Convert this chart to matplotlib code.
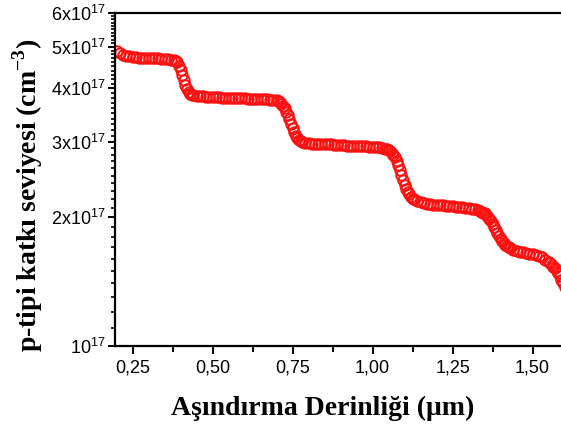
import numpy as np
import matplotlib
matplotlib.use('Agg')
import matplotlib.pyplot as plt
from matplotlib.ticker import FixedLocator, FixedFormatter, FuncFormatter

# etching depth (um) and p-type doping level (x1e17 cm^-3)
depth = [
    0.20, 0.21, 0.22, 0.23, 0.24, 0.25, 0.26, 0.27, 0.28, 0.29, 0.30, 0.31, 0.32, 0.33, 0.34, 0.35, 0.36, 0.37, 0.38,
    0.385, 0.39, 0.395, 0.40, 0.405, 0.41, 0.415, 0.42, 0.425, 0.43, 0.435, 0.44,
    0.45, 0.46, 0.47, 0.48, 0.49, 0.50, 0.51, 0.52, 0.53, 0.54, 0.55, 0.56, 0.57, 0.58, 0.59, 0.60,
    0.61, 0.62, 0.63, 0.64, 0.65, 0.66, 0.67, 0.68, 0.69, 0.70,
    0.705, 0.71, 0.715, 0.72, 0.725, 0.73, 0.735, 0.74, 0.745, 0.75, 0.755, 0.76, 0.765, 0.77, 0.775,
    0.78, 0.79, 0.80, 0.81, 0.82, 0.83, 0.84, 0.85, 0.86, 0.87, 0.88, 0.89, 0.90, 0.91, 0.92, 0.93,
    0.94, 0.95, 0.96, 0.97, 0.98, 0.99, 1.00, 1.01, 1.02, 1.03, 1.04,
    1.045, 1.05, 1.055, 1.06, 1.065, 1.07, 1.075, 1.08, 1.085, 1.09, 1.095, 1.10, 1.105, 1.11, 1.115, 1.12, 1.125,
    1.13, 1.14, 1.15, 1.16, 1.17, 1.18, 1.19, 1.20, 1.21, 1.22, 1.23, 1.24, 1.25, 1.26, 1.27, 1.28,
    1.29, 1.30, 1.31, 1.32, 1.33,
    1.335, 1.34, 1.345, 1.35, 1.355, 1.36, 1.365, 1.37, 1.375, 1.38, 1.385, 1.39, 1.395, 1.40, 1.405,
    1.41, 1.415, 1.42, 1.425,
    1.43, 1.44, 1.45, 1.46, 1.47, 1.48, 1.49, 1.50, 1.51, 1.52, 1.53, 1.54, 1.55,
    1.555, 1.56, 1.565, 1.57, 1.575, 1.58, 1.585, 1.59, 1.595, 1.60,
]
doping = [
    4.88, 4.83, 4.79, 4.77, 4.75, 4.74, 4.73, 4.72, 4.72, 4.71, 4.71, 4.70, 4.70, 4.70, 4.69, 4.69, 4.68, 4.67, 4.66,
    4.64, 4.60, 4.52, 4.42, 4.30, 4.18, 4.07, 3.98, 3.92, 3.88, 3.86, 3.85,
    3.84, 3.83, 3.83, 3.82, 3.82, 3.81, 3.81, 3.81, 3.80, 3.80, 3.80, 3.80, 3.79, 3.79, 3.79, 3.79,
    3.78, 3.78, 3.78, 3.78, 3.77, 3.77, 3.77, 3.76, 3.76, 3.75,
    3.73, 3.71, 3.68, 3.64, 3.59, 3.53, 3.46, 3.39, 3.31, 3.23, 3.16, 3.10, 3.06, 3.03, 3.01,
    2.99, 2.98, 2.98, 2.97, 2.97, 2.97, 2.96, 2.96, 2.96, 2.96, 2.95, 2.95, 2.95, 2.95, 2.94, 2.94,
    2.94, 2.94, 2.93, 2.93, 2.93, 2.92, 2.92, 2.92, 2.91, 2.90, 2.89,
    2.88, 2.87, 2.85, 2.83, 2.80, 2.76, 2.71, 2.65, 2.58, 2.51, 2.44, 2.38, 2.33, 2.29, 2.26, 2.23, 2.21,
    2.20, 2.18, 2.17, 2.16, 2.15, 2.15, 2.14, 2.14, 2.13, 2.13, 2.12, 2.12, 2.12, 2.11, 2.11, 2.11,
    2.10, 2.10, 2.09, 2.09, 2.08,
    2.07, 2.06, 2.05, 2.04, 2.02, 2.00, 1.98, 1.96, 1.93, 1.90, 1.87, 1.84, 1.81, 1.78, 1.76,
    1.74, 1.72, 1.71, 1.70,
    1.69, 1.68, 1.67, 1.66, 1.66, 1.65, 1.64, 1.64, 1.63, 1.62, 1.61, 1.59, 1.57,
    1.56, 1.55, 1.53, 1.52, 1.50, 1.48, 1.46, 1.43, 1.40, 1.37,
]

x_major = [0.25, 0.50, 0.75, 1.00, 1.25, 1.50]
x_minor = [0.375, 0.625, 0.875, 1.125, 1.375]
y_major = [1, 2, 3, 4, 5, 6]
y_labels = [r'$10^{17}$', r'$2\mathrm{x}10^{17}$', r'$3\mathrm{x}10^{17}$',
            r'$4\mathrm{x}10^{17}$', r'$5\mathrm{x}10^{17}$', r'$6\mathrm{x}10^{17}$']

plt.rcParams['font.family'] = 'Liberation Sans'
plt.rcParams['mathtext.fontset'] = 'custom'
plt.rcParams['mathtext.rm'] = 'Liberation Sans'
plt.rcParams['mathtext.bf'] = 'Liberation Serif:bold'

fig = plt.figure(figsize=(5.61, 4.28), dpi=100)
ax = fig.add_axes([115 / 561, 82 / 428, 449.6 / 561, 333 / 428])

scale = 1e17
ax.plot(depth, np.array(doping) * scale, 'o', mfc='none', mec='#ff1010',
        ms=7.5, mew=1.4)

ax.set_yscale('log')
ax.set_xlim(0.195, 1.6)
ax.set_ylim(1 * scale, 6 * scale)

ax.xaxis.set_major_locator(FixedLocator(x_major))
ax.xaxis.set_minor_locator(FixedLocator(x_minor))
ax.xaxis.set_major_formatter(FuncFormatter(lambda v, p: f'{v:.2f}'.replace('.', ',')))

ax.yaxis.set_major_locator(FixedLocator([v * scale for v in y_major]))
ax.yaxis.set_major_formatter(FixedFormatter(y_labels))
minor_y = [round(v, 1) * scale for v in np.arange(1.1, 6.0, 0.1) if abs(v - round(v)) > 0.01]
ax.yaxis.set_minor_locator(FixedLocator(minor_y))
ax.yaxis.set_minor_formatter(FixedFormatter([''] * len(minor_y)))

for s in ['left', 'bottom', 'top']:
    ax.spines[s].set_linewidth(1.6)
ax.spines['right'].set_visible(False)

ax.tick_params(axis='both', which='major', direction='out', width=1.4, labelsize=13)
ax.tick_params(axis='x', which='major', length=6, pad=4)
ax.tick_params(axis='x', which='minor', direction='out', length=4, width=1.4)
ax.tick_params(axis='y', which='major', length=5, pad=2)
ax.tick_params(axis='y', which='minor', direction='out', length=3, width=1.2)
ax.tick_params(top=False, right=False, which='both')

fig.text(323 / 561, 1 - 408 / 428, 'Aşındırma Derinliği (μm)', ha='center', va='center',
         fontsize=20, fontweight='bold', family='Liberation Serif')
fig.text(28 / 561, 1 - 195 / 428, r'p-tipi katkı seviyesi (cm$^{\mathbf{-3}}$)',
         rotation=90, ha='center', va='center',
         fontsize=20, fontweight='bold', family='Liberation Serif')

fig.savefig('out.png', dpi=100)
